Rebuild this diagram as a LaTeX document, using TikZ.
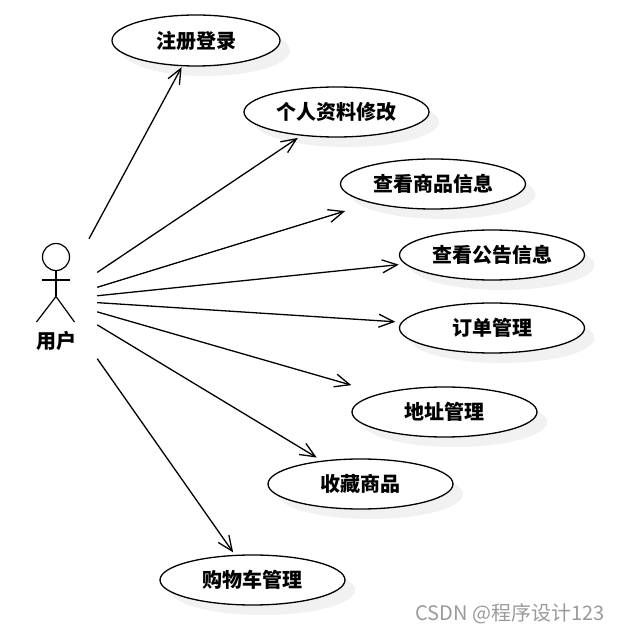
\documentclass[tikz,border=0pt]{standalone}
\usepackage{fontspec}
\setmainfont{Noto Sans CJK SC}
\usetikzlibrary{arrows.meta,shapes.geometric,shadows}

\begin{document}
\begin{tikzpicture}[x=1pt,y=1pt, every node/.style={inner sep=0pt},
    usecase/.style={ellipse, draw=black, fill=white, line width=1.3pt, minimum width=185pt, minimum height=50pt,
      font=\fontsize{20}{24}\selectfont\bfseries,
      drop shadow={shadow xshift=10pt, shadow yshift=-10pt, fill=sh, opacity=1}},
    assoc/.style={draw=black, line width=1.3pt, -{Straight Barb[length=15pt,width=13pt]}},
    stick/.style={draw=black, line width=1.2pt}]
\definecolor{sh}{HTML}{F1F1F1}\definecolor{wm}{HTML}{9A9A9A}
\useasboundingbox (0pt,0pt) rectangle (619pt,633pt);
% use cases
\node[usecase, minimum width=168pt, minimum height=51pt] (login) at (196pt,592.5pt) {注册登录};
\node[usecase] (profile) at (336.5pt,521pt) {个人资料修改};
\node[usecase] (goods) at (433pt,449pt) {查看商品信息};
\node[usecase] (notice) at (492pt,378pt) {查看公告信息};
\node[usecase] (orders) at (492pt,305pt) {订单管理};
\node[usecase] (address) at (444.5pt,221pt) {地址管理};
\node[usecase] (favs) at (360.5pt,149pt) {收藏商品};
\node[usecase] (cart) at (252.5pt,53pt) {购物车管理};
% actor
\node[minimum width=82pt, minimum height=122pt] (actor) at (56pt,333pt) {};
\node[stick, circle, minimum size=27pt] (head) at (56pt,376pt) {};
\coordinate (hip) at (56pt,336.5pt);
\coordinate (armL) at (42pt,353pt);
\coordinate (armR) at (70pt,353pt);
\coordinate (legL) at (36.5pt,311pt);
\coordinate (legR) at (74.5pt,311pt);
\draw[stick] (head.south) -- (hip);
\draw[stick] (armL) -- (armR);
\draw[stick] (legL) -- (hip) -- (legR);
\node[font=\fontsize{20}{24}\selectfont\bfseries] (actorname) at (56pt,292pt) {用户};
% associations
\draw[assoc, shorten >=1pt] (actor) -- (login);
\draw[assoc, shorten >=4pt] (actor) -- (profile);
\draw[assoc, shorten >=27pt] (actor) -- (goods);
\draw[assoc, shorten >=6pt] (actor) -- (notice);
\draw[assoc, shorten >=6pt] (actor) -- (orders);
\draw[assoc, shorten >=30pt] (actor) -- (address);
\draw[assoc, shorten >=6pt] (actor) -- (favs);
\draw[assoc, shorten >=3pt] (actor) -- (cart);
% watermark
\node[anchor=center, font=\fontsize{20}{24}\selectfont, text=wm] (mark) at (510pt,19pt) {CSDN @程序设计123};
\end{tikzpicture}
\end{document}
